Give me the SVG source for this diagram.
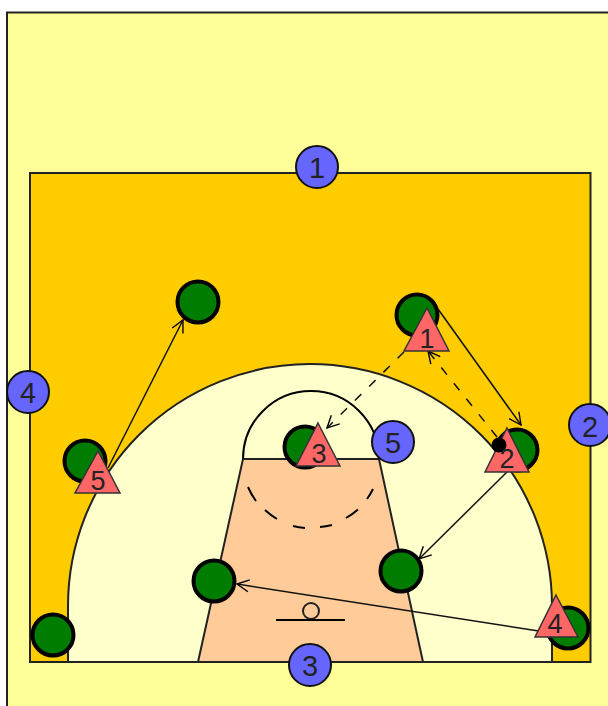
<svg xmlns="http://www.w3.org/2000/svg" width="608" height="706" viewBox="0 0 608 706">
<defs>
<marker id="arrow" viewBox="0 0 14 14" refX="13" refY="7" markerWidth="14" markerHeight="14" markerUnits="userSpaceOnUse" orient="auto"><path d="M1 1L13 7L1 13" fill="none" stroke="#000" stroke-width="1.4"/></marker>
</defs>
<style>
.line{fill:none;stroke:#000;stroke-width:2}
.def{stroke:#222;stroke-width:2}
.conn{fill:none;stroke:#111;stroke-width:1.5;marker-end:url(#arrow)}
.dash{stroke-dasharray:9 11}
.green{fill:#007c00;stroke:#000;stroke-width:4}
.blue{fill:#6666ff;stroke:#111;stroke-width:2}
.tri{fill:#ff6666;stroke:#333;stroke-width:1.5}
text{font-family:"Liberation Sans",Arial,sans-serif;fill:#222;text-anchor:middle}
.pos{font-size:29px}
.num{font-size:27px}
</style>
<rect width="608" height="706" fill="#fff"/>
<rect x="7" y="12.5" width="603" height="696" fill="#ffff99" stroke="#222" stroke-width="2"/>
<g id="court">
<rect x="30" y="173" width="560.5" height="489" fill="#ffcc00" stroke="#222" stroke-width="2"/>
<path d="M68 662V606A242 242 0 0 1 552 606V662Z" fill="#ffffcc" class="def"/>
<path d="M198 662L243 459H379L423 662Z" fill="#ffcc99" class="def"/>
<path d="M243 459A68 68 0 0 1 379 459" class="line"/>
<path d="M248 487A69 69 0 0 0 256 501M265 510A69 69 0 0 0 277 519M293 526A69 69 0 0 0 305 528M320 527A69 69 0 0 0 332 525M346 518A69 69 0 0 0 358 509.500M367 499A69 69 0 0 0 373 489" class="line"/>
<path d="M30 662H590.5" class="def"/>
<circle cx="311" cy="611" r="8" fill="#ffcc99" stroke="#222" stroke-width="2"/>
<path d="M276 620H345" class="line"/>
</g>
<g id="green-players">
<circle id="g1" class="green" cx="198" cy="302" r="20.500"/>
<circle id="g2" class="green" cx="417" cy="315" r="20.500"/>
<circle id="g3" class="green" cx="85" cy="461" r="20.500"/>
<circle id="g4" class="green" cx="305" cy="447" r="20.500"/>
<circle id="g5" class="green" cx="517" cy="450" r="20.500"/>
<circle id="g6" class="green" cx="401" cy="571" r="20.500"/>
<circle id="g7" class="green" cx="214" cy="581" r="20.500"/>
<circle id="g8" class="green" cx="53" cy="635" r="20.500"/>
<circle id="g9" class="green" cx="568" cy="628" r="20.500"/>
</g>
<g id="connectors">
<path class="conn" d="M108 468L183 320"/>
<path class="conn" d="M438 309L521 425"/>
<path class="conn dash" d="M497 437L428 351"/>
<path class="conn dash" d="M404 352L327 428"/>
<path class="conn" d="M507 472L419 559"/>
<path class="conn" d="M545 632L237 584"/>
</g>
<g id="markers">
<g id="t1"><path class="tri" d="M427 308L449 351H404Z"/><text class="num" x="427" y="348">1</text></g>
<g id="t2"><path class="tri" d="M507 428L529 472H485Z"/><circle cx="499" cy="445" r="7.500" fill="#000"/><text class="num" x="507" y="468">2</text></g>
<g id="t3"><path class="tri" d="M318 423L340 466H296Z"/><text class="num" x="319" y="463">3</text></g>
<g id="t4"><path class="tri" d="M556 595L578 637H535Z"/><text class="num" x="555" y="633">4</text></g>
<g id="t5"><path class="tri" d="M98 451L120 493H75Z"/><text class="num" x="98" y="490">5</text></g>
</g>
<g id="positions">
<g id="p1"><circle class="blue" cx="317" cy="167" r="21"/><text class="pos" x="317" y="178">1</text></g>
<g id="p2"><circle class="blue" cx="590" cy="425" r="21"/><text class="pos" x="590" y="437">2</text></g>
<g id="p3"><circle class="blue" cx="310" cy="665" r="21"/><text class="pos" x="310" y="676">3</text></g>
<g id="p4"><circle class="blue" cx="28" cy="392" r="21"/><text class="pos" x="28" y="403">4</text></g>
<g id="p5"><circle class="blue" cx="393" cy="442" r="21"/><text class="pos" x="393" y="453">5</text></g>
</g>
</svg>
